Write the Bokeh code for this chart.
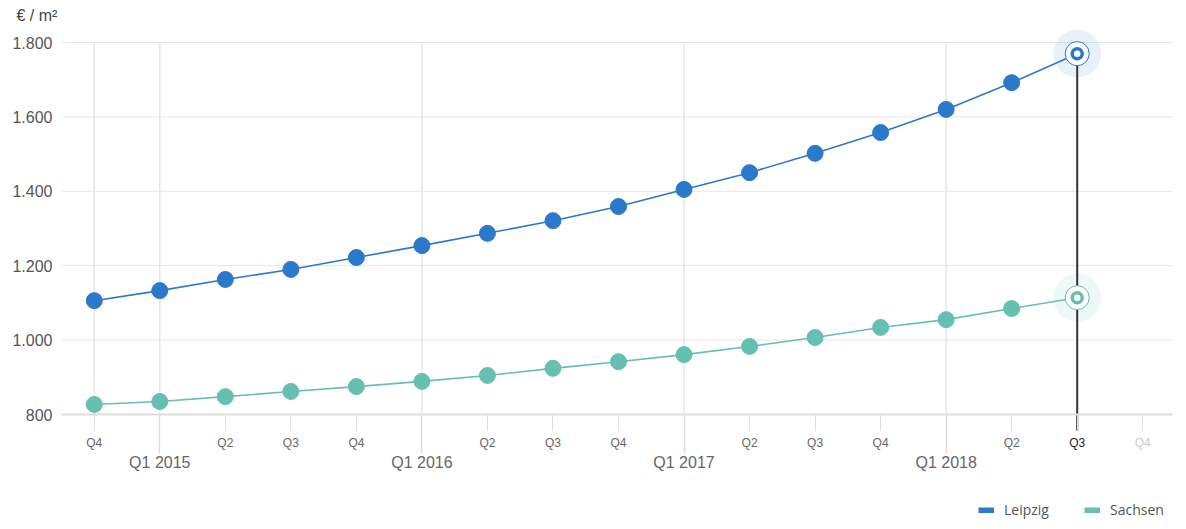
from bokeh.plotting import figure
from bokeh.models import (Range1d, FixedTicker, LinearAxis, Legend, LegendItem,
                          Label, ColumnDataSource)
from bokeh.embed import file_html
from bokeh.resources import INLINE

# ---------------- data ----------------
quarter_labels = ["Q4", "Q1", "Q2", "Q3", "Q4", "Q1", "Q2", "Q3", "Q4",
                  "Q1", "Q2", "Q3", "Q4", "Q1", "Q2", "Q3", "Q4"]
year_labels = {1: "Q1 2015", 5: "Q1 2016", 9: "Q1 2017", 13: "Q1 2018"}
leipzig = [1106, 1133, 1163, 1190, 1222, 1254, 1287, 1321, 1359,
           1405, 1450, 1502, 1558, 1620, 1692, 1770]
sachsen = [827, 835, 848, 862, 875, 889, 905, 924, 942,
           961, 983, 1007, 1034, 1055, 1085, 1114]
y_ticks = [800, 1000, 1200, 1400, 1600, 1800]
y_tick_labels = ["800", "1.000", "1.200", "1.400", "1.600", "1.800"]
series_names = ["Leipzig", "Sachsen"]
unit_label = "€ / m²"

BLUE = "#2b79cb"
TEAL = "#66bfb0"
GRID = "#e6e6e6"
TICK = "#dddddd"
TXT = "#666666"

# ---------------- geometry (pixel layout of the plotting area) ----------------
W, H = 1186, 529
PL, PR, PB = 61, 1175, 414          # plot area left/right, baseline (y=800)
X0, X1 = -0.5, len(quarter_labels) - 0.5
Y0 = y_ticks[0]
ppu = (PB - 42) / (y_ticks[-1] - y_ticks[0])   # px per unit (1800 at y=42)
xppu = (PR - PL) / (X1 - X0)


def ydata(py):
    return Y0 + (PB - py) / ppu


def xdata(px):
    return X0 + (px - PL) / xppu


idx = list(range(len(leipzig)))
all_q = list(range(len(quarter_labels)))
last = idx[-1]
year_pos = list(year_labels.keys())
x_end = xdata(1172)

p = figure(width=W, height=H, output_backend="svg", toolbar_location=None,
           x_range=Range1d(xdata(0), xdata(W)), y_range=Range1d(ydata(H), ydata(0)),
           min_border_left=0, min_border_right=0, min_border_top=0, min_border_bottom=0)
p.title = None
p.outline_line_color = None
p.background_fill_color = "white"
p.border_fill_color = "white"
p.xgrid.grid_line_color = None
p.ygrid.grid_line_color = None

# horizontal grid lines
n = len(y_ticks)
p.segment(x0=[X0] * n, x1=[x_end] * n, y0=y_ticks, y1=y_ticks,
          line_color=GRID, line_width=1)

# vertical grid lines at first point and year starts
vgrid = [0] + year_pos
p.segment(x0=vgrid, x1=vgrid, y0=[y_ticks[0]] * len(vgrid), y1=[y_ticks[-1]] * len(vgrid),
          line_color=GRID, line_width=1.5)


def style_axis(ax, size, color):
    ax.axis_line_color = None
    ax.major_tick_line_color = None
    ax.minor_tick_line_color = None
    ax.major_tick_out = 0
    ax.major_tick_in = 0
    ax.major_label_text_font = "Liberation Sans"
    ax.major_label_text_font_size = size
    ax.major_label_text_color = color


# y axis
yax = p.yaxis[0]
style_axis(yax, "16px", "#555555")
yax.ticker = FixedTicker(ticks=y_ticks)
yax.major_label_overrides = {t: l for t, l in zip(y_ticks, y_tick_labels)}
yax.fixed_location = X0
yax.major_label_standoff = 9

# quarter axis (baseline, short ticks, quarter labels)
qa = p.xaxis[0]
style_axis(qa, "12px", TXT)
qa.fixed_location = Y0
qa.bounds = (X0, x_end)
qa.ticker = FixedTicker(ticks=all_q)
qa.major_label_overrides = {i: ("" if (i in year_labels or i >= last) else q)
                            for i, q in enumerate(quarter_labels)}
qa.axis_line_color = TICK
qa.axis_line_width = 2
qa.major_tick_line_color = TICK
qa.major_tick_out = 16
qa.major_label_standoff = 5

# year axis (long ticks, year labels)
ya = LinearAxis(ticker=FixedTicker(ticks=year_pos), major_label_overrides=year_labels,
                fixed_location=ydata(453))
style_axis(ya, "16px", TXT)
ya.major_tick_line_color = TICK
ya.major_tick_line_width = 1.5
ya.major_tick_in = 453 - PB
ya.major_label_standoff = 0
p.add_layout(ya, "below")

# highlighted current quarter label
q3 = LinearAxis(ticker=FixedTicker(ticks=[all_q[last]]),
                major_label_overrides={all_q[last]: quarter_labels[last]},
                fixed_location=ydata(435))
style_axis(q3, "12px", "#222222")
q3.major_label_standoff = 0
p.add_layout(q3, "below")

# faded future quarter label
q4 = LinearAxis(ticker=FixedTicker(ticks=[all_q[last + 1]]),
                major_label_overrides={all_q[last + 1]: quarter_labels[last + 1]},
                fixed_location=ydata(435))
style_axis(q4, "12px", "#cccccc")
q4.major_label_standoff = 0
p.add_layout(q4, "below")

# unit label
p.add_layout(Label(x=xdata(16), y=ydata(15), text=unit_label,
                   text_align="left", text_baseline="middle",
                   text_font="Liberation Sans", text_font_size="16px", text_color="#444444"))

# halos
p.scatter(x=[last], y=[leipzig[last]], size=48, fill_color=BLUE, fill_alpha=0.11, line_color=None)
p.scatter(x=[last], y=[sachsen[last]], size=48, fill_color=TEAL, fill_alpha=0.11, line_color=None)

# crosshair
p.segment(x0=[last], x1=[last], y0=[leipzig[last]], y1=[ydata(430)],
          line_color="#333333", line_width=2)

# series
for vals, col in ((leipzig, BLUE), (sachsen, TEAL)):
    p.line(idx, vals, line_color=col, line_width=1.6)
    p.scatter(idx, vals, size=16, fill_color=col, line_color=col, line_width=1)
    p.scatter(x=[last], y=[vals[last]], size=24, fill_color="white", line_color=col, line_width=1)
    p.scatter(x=[last], y=[vals[last]], size=10, fill_color="white", line_color=col, line_width=3.5)

# legend (swatch renderers hold no visible data)
nan = float("nan")
sw = ColumnDataSource(data=dict(x=[nan], y=[nan]))
r1 = p.line("x", "y", source=sw, line_color=BLUE, line_width=6)
r2 = p.line("x", "y", source=sw, line_color=TEAL, line_width=6)
legend = Legend(items=[LegendItem(label=series_names[0], renderers=[r1]),
                       LegendItem(label=series_names[1], renderers=[r2])],
                orientation="horizontal", location=(978, 10),
                glyph_width=16, glyph_height=6, label_standoff=10, spacing=15,
                label_width=65, padding=0, margin=0,
                border_line_color=None, background_fill_alpha=0,
                label_text_font="Open Sans", label_text_font_size="14px",
                label_text_color="#555555")
p.add_layout(legend, "center")

open("out.html", "w").write(file_html(p, INLINE))
